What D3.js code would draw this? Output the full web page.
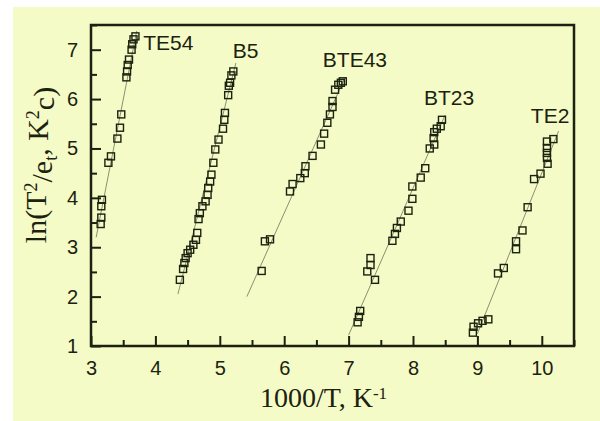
<!DOCTYPE html>
<html>
<head>
<meta charset="utf-8">
<script src="https://cdn.jsdelivr.net/npm/d3@7"></script>
<style>
  html, body { margin: 0; padding: 0; background: #ffffff; }
  svg { display: block; }
</style>
</head>
<body>
<svg id="chart" width="600" height="421"></svg>
<script>
// Arrhenius-type plots: ln(T^2/e_t) versus 1000/T for five samples
const seriesNames = ["TE54", "B5", "BTE43", "BT23", "TE2"];

const te54 = [[3.15,3.47],[3.16,3.60],[3.16,3.83],[3.17,3.96],[3.27,4.71],[3.31,4.84],
  [3.41,5.20],[3.45,5.42],[3.47,5.69],[3.55,6.44],[3.56,6.56],[3.57,6.69],[3.59,6.80],
  [3.63,7.00],[3.64,7.11],[3.66,7.21],[3.69,7.27]];
const b5 = [[4.38,2.34],[4.43,2.56],[4.45,2.68],[4.47,2.78],[4.50,2.88],[4.54,2.95],
  [4.59,3.05],[4.63,3.15],[4.65,3.29],[4.67,3.57],[4.69,3.69],[4.73,3.83],[4.78,3.93],
  [4.81,4.06],[4.82,4.20],[4.85,4.33],[4.87,4.47],[4.90,4.71],[4.93,4.98],[4.98,5.18],
  [5.05,5.40],[5.07,5.58],[5.08,5.72],[5.13,6.08],[5.14,6.27],[5.16,6.33],[5.18,6.48],
  [5.21,6.56]];
const bte43 = [[5.65,2.52],[5.70,3.12],[5.78,3.16],[6.09,4.13],[6.13,4.28],[6.25,4.40],
  [6.32,4.50],[6.33,4.64],[6.44,4.85],[6.57,5.08],[6.62,5.30],[6.67,5.52],[6.71,5.69],
  [6.75,5.84],[6.75,5.96],[6.79,6.19],[6.84,6.29],[6.88,6.33],[6.91,6.36]];
const bt23 = [[7.14,1.48],[7.16,1.59],[7.18,1.71],[7.29,2.51],[7.34,2.64],[7.34,2.78],
  [7.41,2.34],[7.68,3.13],[7.72,3.27],[7.75,3.39],[7.81,3.52],[7.93,3.74],[7.99,3.98],
  [7.99,4.23],[8.12,4.41],[8.19,4.60],[8.26,5.00],[8.33,5.08],[8.32,5.21],[8.33,5.33],
  [8.37,5.40],[8.43,5.45],[8.45,5.58]];
const te2 = [[8.93,1.27],[8.94,1.39],[9.01,1.46],[9.08,1.51],[9.17,1.54],[9.32,2.47],
  [9.41,2.58],[9.60,2.96],[9.60,3.12],[9.70,3.34],[9.78,3.81],[9.88,4.38],[9.98,4.49],
  [10.09,4.69],[10.08,4.81],[10.08,4.91],[10.08,5.01],[10.08,5.14],[10.18,5.19]];

// Linear fits, each given by its two end points
const fitTE54 = [[3.08,3.20],[3.71,7.38]];
const fitB5 = [[4.35,2.05],[5.25,6.73]];
const fitBTE43 = [[5.42,2.00],[6.94,6.43]];
const fitBT23 = [[7.00,1.22],[8.50,5.68]];
const fitTE2 = [[9.00,1.25],[10.26,5.35]];

// Where each sample name sits, in data units
const labelAt = [[3.81,7.00],[5.20,6.84],[6.60,6.64],[8.17,5.89],[9.83,5.52]];

const xTicks = [3, 4, 5, 6, 7, 8, 9, 10];
const yTicks = [1, 2, 3, 4, 5, 6, 7];
const xMinor = [3.5, 4.5, 5.5, 6.5, 7.5, 8.5, 9.5, 10.5];
const yMinor = [1.5, 2.5, 3.5, 4.5, 5.5, 6.5, 7.5];

const series = [te54, b5, bte43, bt23, te2];
const fits = [fitTE54, fitB5, fitBTE43, fitBT23, fitTE2];

const ink = "#1c2210";
const svg = d3.select("#chart");

// Tinted panel
svg.append("rect").attr("x", 13).attr("y", 7).attr("width", 587).attr("height", 414)
  .attr("fill", "#f4fbc6");

const plotL = 91, plotR = 574, plotT = 25, plotB = 346;
const x = d3.scaleLinear().domain([3, 10.5]).range([plotL, plotR]);
const y = d3.scaleLinear().domain([1, 7.5]).range([plotB, plotT]);

const g = svg.append("g");

// Fit lines
const line = d3.line().x(d => x(d[0])).y(d => y(d[1]));
g.selectAll("path.fit").data(fits).join("path")
  .attr("class", "fit")
  .attr("d", line)
  .attr("fill", "none")
  .attr("stroke", "#7d8466")
  .attr("stroke-width", 0.9);

// Open square markers
const s = 7;
series.forEach(pts => {
  g.append("g").selectAll("rect").data(pts).join("rect")
    .attr("x", d => x(d[0]) - s / 2)
    .attr("y", d => y(d[1]) - s / 2)
    .attr("width", s).attr("height", s)
    .attr("fill", "none")
    .attr("stroke", ink)
    .attr("stroke-width", 1.4);
});

// Axes with inward ticks
const tickFont = "'Liberation Sans', Arial, sans-serif";
svg.append("g").attr("transform", `translate(0,${plotB})`)
  .call(d3.axisBottom(x).tickValues(xTicks).tickSize(-10).tickPadding(15).tickFormat(d3.format("d")));
svg.append("g").attr("transform", `translate(0,${plotB})`)
  .call(d3.axisBottom(x).tickValues(xMinor).tickSize(-6).tickFormat(""));
svg.append("g").attr("transform", `translate(${plotL},0)`)
  .call(d3.axisLeft(y).tickValues(yTicks).tickSize(-10).tickPadding(13).tickFormat(d3.format("d")));
svg.append("g").attr("transform", `translate(${plotL},0)`)
  .call(d3.axisLeft(y).tickValues(yMinor).tickSize(-6).tickFormat(""));

svg.selectAll(".domain").remove();
svg.selectAll(".tick line").attr("stroke", ink).attr("stroke-width", 2);
svg.selectAll(".tick text").attr("fill", ink).style("font-family", tickFont).style("font-size", "20px");

// Frame
svg.append("rect").attr("x", plotL).attr("y", plotT)
  .attr("width", plotR - plotL).attr("height", plotB - plotT)
  .attr("fill", "none").attr("stroke", ink).attr("stroke-width", 2.5);

// Sample names
svg.append("g").selectAll("text").data(seriesNames).join("text")
  .attr("x", (d, i) => x(labelAt[i][0]))
  .attr("y", (d, i) => y(labelAt[i][1]))
  .attr("fill", ink)
  .style("font-family", tickFont)
  .style("font-size", "21px")
  .text(d => d);

// Axis titles
const serif = "'Liberation Serif', 'Times New Roman', serif";
const xt = svg.append("text")
  .attr("x", (plotL + plotR) / 2 - 9).attr("y", 407)
  .attr("text-anchor", "middle")
  .attr("fill", ink)
  .style("font-family", serif).style("font-size", "28px");
xt.append("tspan").text("1000/T, K");
xt.append("tspan").attr("dy", "-0.45em").style("font-size", "17px").text("-1");

const yt = svg.append("text")
  .attr("transform", `translate(46,165) rotate(-90)`)
  .attr("text-anchor", "middle")
  .attr("fill", ink)
  .style("font-family", serif).style("font-size", "30px");
yt.append("tspan").text("ln(T");
yt.append("tspan").attr("dy", "-0.5em").style("font-size", "18px").text("2");
yt.append("tspan").attr("dy", "0.5em").text("/e");
yt.append("tspan").attr("dy", "0.3em").style("font-size", "18px").text("t");
yt.append("tspan").attr("dy", "-0.3em").text(", K");
yt.append("tspan").attr("dy", "-0.5em").style("font-size", "18px").text("2");
yt.append("tspan").attr("dy", "0.5em").text("c)");
</script>
</body>
</html>
